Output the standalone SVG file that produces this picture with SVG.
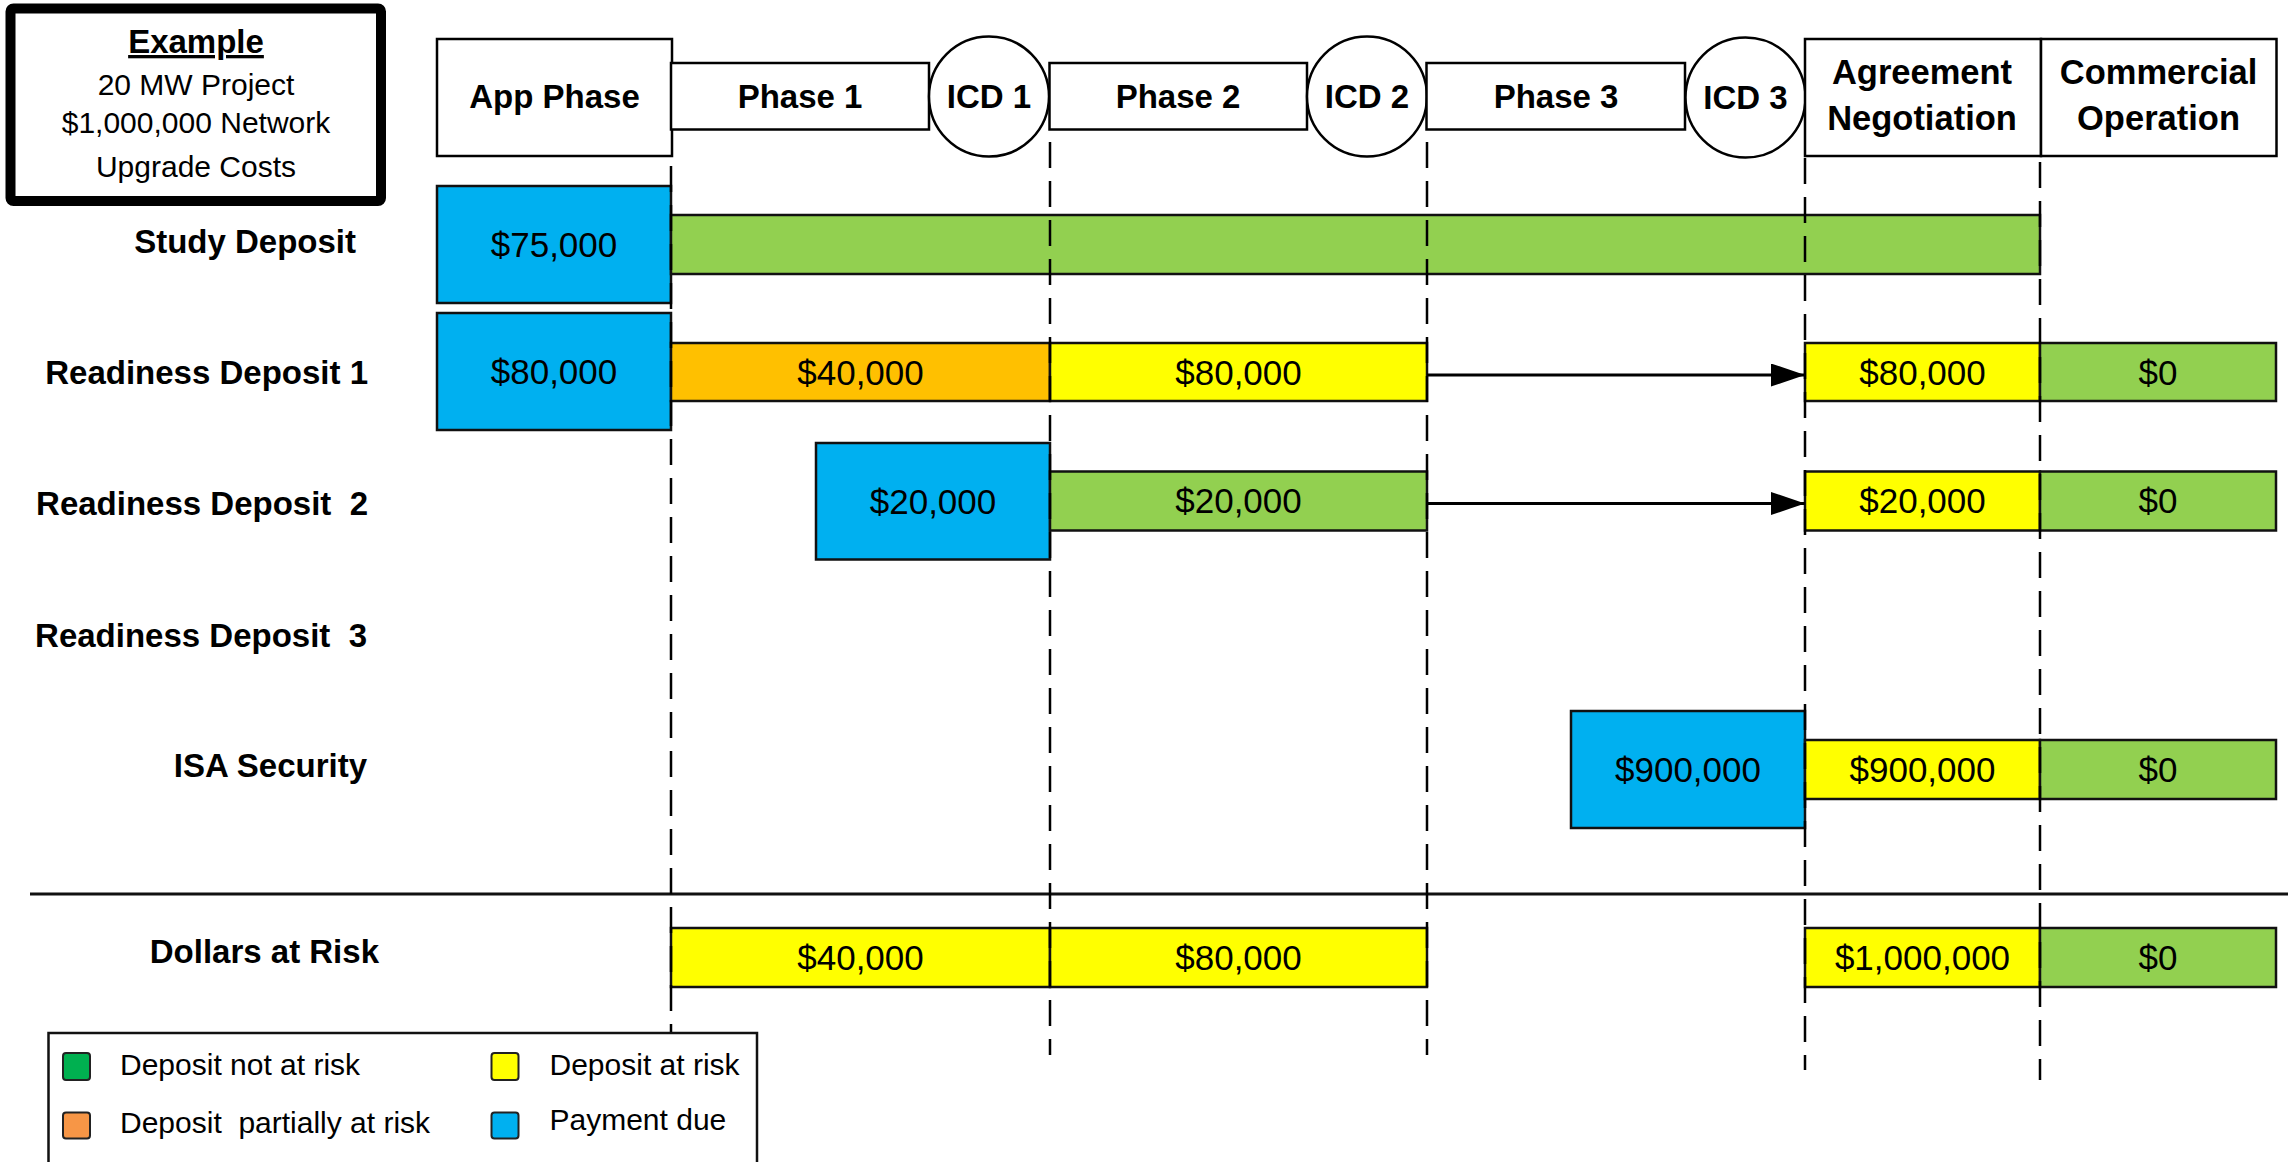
<svg xmlns="http://www.w3.org/2000/svg" width="2288" height="1162" viewBox="0 0 2288 1162">
  <defs>
    <style>
      text { font-family: "Liberation Sans", Arial, sans-serif; fill: #000; }
      .hdr { font-size: 33px; font-weight: bold; text-anchor: middle; }
      .hdr2 { font-size: 34.5px; font-weight: bold; text-anchor: middle; }
      .lbl { font-size: 33px; font-weight: bold; text-anchor: end; white-space: pre; }
      .amt { font-size: 35px; text-anchor: middle; }
      .note { font-size: 30px; text-anchor: middle; }
      .leg { font-size: 30px; white-space: pre; }
      .box { fill: #fff; stroke: #000; stroke-width: 2.5; }
      .bar { stroke: #111; stroke-width: 2.5; }
      .blue { fill: #00B0F0; }
      .green { fill: #92D050; }
      .yellow { fill: #FFFF00; }
      .orange { fill: #FFC000; }
      .sw { stroke: #222; stroke-width: 2; }
      .milestone { fill: none; stroke: #000; stroke-width: 2.5; stroke-dasharray: 26 13; }
      .carry { stroke: #000; stroke-width: 3; fill: none; }
    </style>
    <marker id="arrowhead" markerUnits="userSpaceOnUse" markerWidth="34" markerHeight="23" refX="34" refY="11.5" orient="auto">
      <path d="M0,0 L34,11.5 L0,23 Z" fill="#000"/>
    </marker>
  </defs>

  <rect width="2288" height="1162" fill="#fff"/>

  <!-- Example summary box -->
  <g id="example">
    <rect x="10.5" y="8.5" width="370.5" height="192.5" rx="3" fill="#fff" stroke="#000" stroke-width="10"/>
    <text x="196" y="53" class="hdr" text-decoration="underline">Example</text>
    <text x="196" y="95" class="note">20 MW Project</text>
    <text x="196" y="133" class="note">$1,000,000 Network</text>
    <text x="196" y="177" class="note">Upgrade Costs</text>
  </g>

  <!-- Timeline header -->
  <g id="app-phase">
    <rect x="437" y="39" width="235" height="117" class="box"/>
    <text x="554.5" y="108" class="hdr">App Phase</text>
  </g>
  <g id="phase-1">
    <rect x="671" y="63" width="258" height="66.5" class="box"/>
    <text x="800" y="108" class="hdr">Phase 1</text>
  </g>
  <g id="icd-1">
    <circle cx="989" cy="96.5" r="60" class="box"/>
    <text x="989" y="108" class="hdr">ICD 1</text>
  </g>
  <g id="phase-2">
    <rect x="1049.5" y="63" width="257.5" height="66.5" class="box"/>
    <text x="1178" y="108" class="hdr">Phase 2</text>
  </g>
  <g id="icd-2">
    <circle cx="1367" cy="96.5" r="60" class="box"/>
    <text x="1367" y="108" class="hdr">ICD 2</text>
  </g>
  <g id="phase-3">
    <rect x="1426.5" y="63" width="258.5" height="66.5" class="box"/>
    <text x="1556" y="108" class="hdr">Phase 3</text>
  </g>
  <g id="icd-3">
    <circle cx="1745.5" cy="97.5" r="60" class="box"/>
    <text x="1745.5" y="109" class="hdr">ICD 3</text>
  </g>
  <g id="agreement-negotiation">
    <rect x="1805" y="39" width="236" height="117" class="box"/>
    <text x="1922" y="84" class="hdr2">Agreement</text>
    <text x="1922" y="130" class="hdr2">Negotiation</text>
  </g>
  <g id="commercial-operation">
    <rect x="2041" y="39" width="235.5" height="117" class="box"/>
    <text x="2158.5" y="84" class="hdr2">Commercial</text>
    <text x="2158.5" y="129.5" class="hdr2">Operation</text>
  </g>

  <!-- Row labels -->
  <g id="row-labels">
    <text x="356" y="253" class="lbl">Study Deposit</text>
    <text x="368" y="384" class="lbl">Readiness Deposit 1</text>
    <text x="368" y="515" class="lbl">Readiness Deposit  2</text>
    <text x="367" y="647" class="lbl">Readiness Deposit  3</text>
    <text x="367" y="777" class="lbl">ISA Security</text>
    <text x="379" y="963" class="lbl">Dollars at Risk</text>
  </g>

  <!-- Study deposit -->
  <g id="study-deposit">
    <rect x="437" y="186" width="234" height="117" class="bar blue"/>
    <text x="554" y="257" class="amt">$75,000</text>
    <rect x="671" y="215" width="1369" height="59" class="bar green"/>
  </g>

  <!-- Readiness deposit 1 -->
  <g id="readiness-1">
    <rect x="437" y="313" width="234" height="117" class="bar blue"/>
    <text x="554" y="384" class="amt">$80,000</text>
    <rect x="671" y="343" width="379" height="58" class="bar orange"/>
    <text x="860.5" y="384.5" class="amt">$40,000</text>
    <rect x="1050" y="343" width="377" height="58" class="bar yellow"/>
    <text x="1238.5" y="384.5" class="amt">$80,000</text>
    <rect x="1805" y="343" width="235" height="58" class="bar yellow"/>
    <text x="1922.5" y="384.5" class="amt">$80,000</text>
    <rect x="2040" y="343" width="236" height="58" class="bar green"/>
    <text x="2158" y="384.5" class="amt">$0</text>
  </g>

  <!-- Readiness deposit 2 -->
  <g id="readiness-2">
    <rect x="816" y="443" width="234" height="116.5" class="bar blue"/>
    <text x="933" y="513.5" class="amt">$20,000</text>
    <rect x="1050" y="471.5" width="377" height="59" class="bar green"/>
    <text x="1238.5" y="513" class="amt">$20,000</text>
    <rect x="1805" y="471.5" width="235" height="59" class="bar yellow"/>
    <text x="1922.5" y="513" class="amt">$20,000</text>
    <rect x="2040" y="471.5" width="236" height="59" class="bar green"/>
    <text x="2158" y="513" class="amt">$0</text>
  </g>

  <!-- ISA security -->
  <g id="isa-security">
    <rect x="1571" y="711" width="234" height="117" class="bar blue"/>
    <text x="1688" y="781.5" class="amt">$900,000</text>
    <rect x="1805" y="740" width="235" height="59" class="bar yellow"/>
    <text x="1922.5" y="781.5" class="amt">$900,000</text>
    <rect x="2040" y="740" width="236" height="59" class="bar green"/>
    <text x="2158" y="781.5" class="amt">$0</text>
  </g>

  <!-- Totals below the separator -->
  <g id="dollars-at-risk">
    <rect x="671" y="928" width="379" height="59" class="bar yellow"/>
    <text x="860.5" y="970" class="amt">$40,000</text>
    <rect x="1050" y="928" width="377" height="59" class="bar yellow"/>
    <text x="1238.5" y="970" class="amt">$80,000</text>
    <rect x="1805" y="928" width="235" height="59" class="bar yellow"/>
    <text x="1922.5" y="970" class="amt">$1,000,000</text>
    <rect x="2040" y="928" width="236" height="59" class="bar green"/>
    <text x="2158" y="970" class="amt">$0</text>
  </g>

  <!-- Separator, milestone guides and carry-over arrows -->
  <g id="connectors">
    <line x1="30" y1="894" x2="2288" y2="894" stroke="#111" stroke-width="3"/>
    <line x1="671" y1="166" x2="671" y2="1033" class="milestone"/>
    <line x1="1050" y1="142" x2="1050" y2="1055" class="milestone"/>
    <line x1="1427" y1="142" x2="1427" y2="1055" class="milestone"/>
    <line x1="1805" y1="158" x2="1805" y2="1070" class="milestone"/>
    <line x1="2040" y1="162" x2="2040" y2="1080" class="milestone"/>
    <line x1="1427" y1="375" x2="1805" y2="375" class="carry" marker-end="url(#arrowhead)"/>
    <line x1="1427" y1="503.5" x2="1805" y2="503.5" class="carry" marker-end="url(#arrowhead)"/>
  </g>

  <!-- Legend -->
  <g id="legend">
    <rect x="48.5" y="1033" width="708.5" height="160" fill="#fff" stroke="#111" stroke-width="2.5"/>
    <rect x="63" y="1053" width="27" height="27" rx="3" class="sw" fill="#00B050"/>
    <text x="120" y="1075" class="leg">Deposit not at risk</text>
    <rect x="63" y="1112.5" width="27" height="26" rx="3" class="sw" fill="#F79646"/>
    <text x="120" y="1133" class="leg">Deposit  partially at risk</text>
    <rect x="491.5" y="1053" width="27" height="27" rx="3" class="sw" fill="#FFFF00"/>
    <text x="549.5" y="1075" class="leg">Deposit at risk</text>
    <rect x="491.5" y="1112.5" width="27" height="26" rx="3" class="sw" fill="#00B0F0"/>
    <text x="549.5" y="1130" class="leg">Payment due</text>
  </g>
</svg>
